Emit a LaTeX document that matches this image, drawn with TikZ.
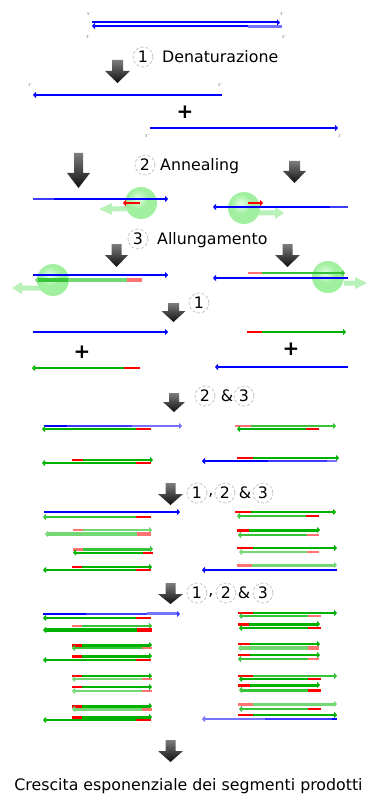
\documentclass[tikz,border=0pt]{standalone}
\usepackage{fontspec}
\setmainfont{DejaVu Sans}
\usetikzlibrary{arrows.meta}

% strand colours
\definecolor{bluD}{RGB}{0,0,255}
\definecolor{bluM}{RGB}{60,60,255}
\definecolor{bluL}{RGB}{115,115,255}
\definecolor{grnD}{RGB}{0,178,0}
\definecolor{grnM}{RGB}{55,195,55}
\definecolor{grnL}{RGB}{115,215,115}
\definecolor{redD}{RGB}{255,0,0}
\definecolor{redL}{RGB}{255,115,115}
% polymerase and step arrows
\definecolor{sphout}{RGB}{160,240,160}
\definecolor{sphin}{RGB}{230,255,230}
\definecolor{polyarr}{RGB}{185,242,185}
\definecolor{arrtop}{RGB}{125,125,125}
\definecolor{arrbot}{RGB}{15,15,15}

\tikzset{
  strand/.style={line width=2pt},
  thk/.style={line width=3pt},
  tip3/.style={-{Triangle[length=3pt,width=6pt]}},
  lbl/.style={font=\fontsize{15.8}{18}\selectfont, inner sep=0pt},
  circnum/.style={lbl, circle, minimum size=20pt, draw=gray!60, densely dashed, line width=0.6pt},
  endlbl/.style={font=\fontsize{4}{4}\selectfont, text=gray, inner sep=0pt},
  plussign/.style={font=\fontsize{20}{20}\selectfont\bfseries, inner sep=0pt},
  polyfill/.style={fill=polyarr}
}

% block arrow pointing down: centre x, top, neck, tip, half shaft, half head
\newcommand\pcrdown[6]{%
  \shade[top color=arrtop, bottom color=arrbot]
    (#1-#5,#2) -- (#1+#5,#2) -- (#1+#5,#3) -- (#1+#6,#3) -- (#1,#4)
    -- (#1-#6,#3) -- (#1-#5,#3) -- cycle;}

% primer + extension: [style] y, 5' end, primer end, 3' end, primer colour, body colour
\newcommand\dnaseg[7][]{%
  \draw[strand,#1,#6] (#3,#2) -- (#4,#2);
  \draw[strand,#1,#7,tip3] (#4,#2) -- (#5,#2);}

% polymerase ball
\newcommand\polyball[2]{%
  \fill[sphout] (#1,#2) circle[radius=16];
  \shade[inner color=sphin, outer color=sphout] (#1-3,#2-4) circle[radius=10];}

\begin{document}
\begin{tikzpicture}[x=1pt,y=-1pt]
\useasboundingbox (0,0) rectangle (367,794);

% ---------- starting double strand ----------
\draw[strand,bluD,tip3] (92,22.5) -- (280,22.5);
\draw[strand,bluD,tip3] (282,26) -- (92,26);
\draw[thk,bluL] (248,26.5) -- (282,26.5);
\node[endlbl] (e1) at (89,14) {5'};
\node[endlbl] (e2) at (88,37) {3'};
\node[endlbl] (e3) at (282,14) {3'};
\node[endlbl] (e4) at (284,37) {5'};

\pcrdown{117.5}{60}{71}{83}{5.5}{12.5}
\node[circnum] (n1) at (143,57) {1};
\node[lbl,anchor=base west] (t1) at (162,63) {Denaturazione};

% ---------- separated strands ----------
\draw[strand,bluD,tip3] (222,95) -- (33,95);
\node[endlbl] (e5) at (30,85) {3'};
\node[endlbl] (e6) at (220,85) {5'};
\node[plussign] (p1) at (185,112) {+};
\draw[strand,bluD,tip3] (150,128) -- (338,128);
\node[endlbl] (e7) at (147,136) {5'};
\node[endlbl] (e8) at (340,136) {3'};

% ---------- annealing ----------
\pcrdown{78.5}{153}{173}{188}{4.5}{11.5}
\pcrdown{294.5}{161}{171}{183}{5.5}{11.5}
\node[circnum] (n2) at (145,165) {2};
\node[lbl,anchor=base west] (t2) at (160,171) {Annealing};

\fill[polyfill] (126,206.5) -- (112,206.5) -- (112,203) -- (99,209) -- (112,215) -- (112,211.5) -- (126,211.5) -- cycle;
\polyball{141}{203}
\draw[strand,bluD,tip3] (33,199) -- (168,199);
\draw[strand,bluM] (33,199) -- (54,199);
\draw[strand,redD,tip3] (140,203) -- (123,203);

\fill[polyfill] (258,210.5) -- (275,210.5) -- (275,207) -- (284,213) -- (275,219) -- (275,215.5) -- (258,215.5) -- cycle;
\polyball{244}{208}
\draw[strand,bluD,tip3] (348,207) -- (213,207);
\draw[strand,bluM] (330,207) -- (348,207);
\draw[strand,redD,tip3] (248,203) -- (263,203);

% ---------- extension ----------
\node[circnum] (n3) at (138,239) {3};
\node[lbl,anchor=base west] (t3) at (157,244) {Allungamento};
\pcrdown{116.5}{244}{255}{267}{5}{11.5}
\pcrdown{287.5}{244}{255}{267}{5}{12.5}

\fill[polyfill] (40,285.5) -- (22,285.5) -- (22,282) -- (12,288) -- (22,294) -- (22,290.5) -- (40,290.5) -- cycle;
\polyball{53}{280}
\draw[strand,bluD,tip3] (33,275) -- (168,275);
\dnaseg[line width=4pt]{280}{142}{127}{35}{redL}{grnL}
\draw[line width=4pt,grnM] (38,280) -- (68,280);

\fill[polyfill] (344,280.5) -- (355,280.5) -- (355,277) -- (367,283) -- (355,289) -- (355,285.5) -- (344,285.5) -- cycle;
\polyball{328}{277}
\draw[strand,bluD,tip3] (348,278) -- (213,278);
\dnaseg{273}{248}{262}{345}{redL}{grnM}

% ---------- after cycle step 1 ----------
\pcrdown{173.5}{303}{311}{322}{5.5}{12}
\node[circnum] (n4) at (199,303) {1};

\draw[strand,bluD,tip3] (33,332) -- (168,332);
\dnaseg{332}{247}{262}{346}{redD}{grnD}
\node[plussign] (p2) at (82,352) {+};
\node[plussign] (p3) at (291,349) {+};
\dnaseg{368}{140}{124}{32}{redD}{grnD}
\draw[strand,bluD,tip3] (348,367) -- (215,367);

% ---------- steps 2 & 3 ----------
\pcrdown{174}{393}{402}{412}{5}{11}
\node[circnum] (n5) at (205,396) {2};
\node[lbl] (a1) at (227,396) {\&};
\node[circnum] (n6) at (244,396) {3};

\draw[strand,bluL,tip3] (44,426) -- (182,426);
\draw[strand,bluM] (44,426) -- (132,426);
\draw[strand,bluD] (44,426) -- (67,426);
\dnaseg{429}{151}{136}{42}{redD}{grnD}
\dnaseg{460}{72}{83}{153}{redD}{grnD}
\dnaseg{463}{151}{136}{42}{redD}{grnD}

\dnaseg{426}{235}{251}{336}{redL}{grnM}
\dnaseg{429}{319}{306}{237}{redD}{grnD}
\dnaseg{458}{237}{253}{339}{redD}{grnD}
\draw[strand,bluL,tip3] (337,461) -- (202,461);
\draw[strand,bluM] (268,461) -- (327,461);
\draw[strand,bluD,tip3] (268,461) -- (202,461);

% ---------- steps 1, 2 & 3 ----------
\pcrdown{170.5}{483}{494}{505}{5}{12.5}
\node[circnum] (n7) at (197,493) {1};
\node[lbl] (c1) at (211,495) {,};
\node[circnum] (n8) at (225,493) {2};
\node[lbl] (a2) at (245,493) {\&};
\node[circnum] (n9) at (263,493) {3};

\draw[strand,bluD,tip3] (44,512) -- (180,512);
\dnaseg{517}{151}{136}{43}{redD}{grnM}
\dnaseg{530}{73}{83}{152}{redL}{grnL}
\dnaseg[line width=3.5pt]{534}{151}{137}{45}{redL}{grnL}
\dnaseg[thk]{549}{73}{83}{153}{redL}{grnM}
\dnaseg{552.5}{153}{143}{73}{redD}{grnD}
\dnaseg{567}{72}{82}{152}{redD}{grnD}
\dnaseg{570}{151}{136}{43}{redD}{grnD}

\dnaseg{512}{235}{251}{336}{redD}{grnD}
\dnaseg{516}{319}{306}{237}{redD}{grnM}
\dnaseg[thk]{530}{237}{249}{320}{redD}{grnD}
\dnaseg{535}{319}{307}{238}{redL}{grnM}
\dnaseg{548}{237}{253}{337}{redD}{grnD}
\dnaseg{552}{319}{307}{239}{redL}{grnL}
\dnaseg[thk]{565}{237}{252}{337}{redL}{grnL}
\draw[strand,bluD,tip3] (337,570) -- (202,570);

% ---------- steps 1, 2 & 3 again ----------
\pcrdown{170.5}{583}{594}{604}{5}{12.5}
\node[circnum] (n10) at (197,593) {1};
\node[lbl] (c2) at (211,595) {,};
\node[circnum] (n11) at (226,593) {2};
\node[lbl] (a3) at (244,593) {\&};
\node[circnum] (n12) at (263,593) {3};

\draw[strand,bluM,tip3] (43,614) -- (180,614);
\draw[strand,bluD] (43,614) -- (86,614);
\draw[thk,bluL] (147,613.5) -- (177,613.5);
\dnaseg{618}{151}{136}{43}{redD}{grnD}
\dnaseg{626}{72}{82}{152}{redL}{grnM}
\dnaseg[line width=4pt]{630}{152}{137}{43}{redD}{grnD}
\dnaseg[thk]{645}{72}{82}{152}{redD}{grnD}
\dnaseg{648}{152}{142}{72}{redL}{grnM}
\dnaseg[thk]{656}{72}{82}{152}{redD}{grnD}
\dnaseg{660}{151}{136}{43}{redD}{grnD}
\dnaseg{676}{72}{82}{152}{redD}{grnD}
\dnaseg{679}{152}{142}{72}{redL}{grnL}
\dnaseg{687}{72}{82}{152}{redD}{grnD}
\dnaseg{691}{152}{142}{72}{redL}{grnL}
\dnaseg[thk]{706}{72}{82}{152}{redD}{grnD}
\dnaseg[thk]{709}{152}{142}{72}{redL}{grnL}
\dnaseg[thk]{717}{72}{82}{152}{redD}{grnD}
\dnaseg{720}{151}{136}{43}{redD}{grnD}

\dnaseg{613}{238}{253}{337}{redD}{grnD}
\dnaseg{616}{321}{308}{239}{redL}{grnM}
\dnaseg[thk]{624}{238}{249}{320}{redD}{grnD}
\dnaseg{628}{321}{308}{239}{redD}{grnD}
\dnaseg{644}{238}{250}{320}{redD}{grnD}
\dnaseg[line width=4pt]{648}{319}{308}{238}{redL}{grnL}
\dnaseg{655}{238}{250}{320}{redD}{grnD}
\dnaseg{659}{319}{308}{238}{redL}{grnM}
\dnaseg{676}{238}{253}{337}{redD}{grnM}
\dnaseg{679}{321}{308}{239}{redD}{grnD}
\dnaseg[thk]{685}{238}{250}{320}{redD}{grnD}
\dnaseg[thk]{690}{321}{308}{239}{redD}{grnM}
\dnaseg[thk]{704}{238}{253}{337}{redL}{grnL}
\dnaseg{709}{321}{308}{239}{redD}{grnM}
\dnaseg{715}{238}{253}{337}{redD}{grnD}
\draw[strand,bluL,tip3] (337,719) -- (202,719);
\draw[strand,bluM] (265,719) -- (337,719);
\draw[strand,bluD] (332,719) -- (337,719);

% ---------- result ----------
\pcrdown{170.5}{740}{751}{762}{5}{12.5}
\node[lbl,anchor=base] (res) at (188.5,790) {Crescita esponenziale dei segmenti prodotti};
\end{tikzpicture}
\end{document}
